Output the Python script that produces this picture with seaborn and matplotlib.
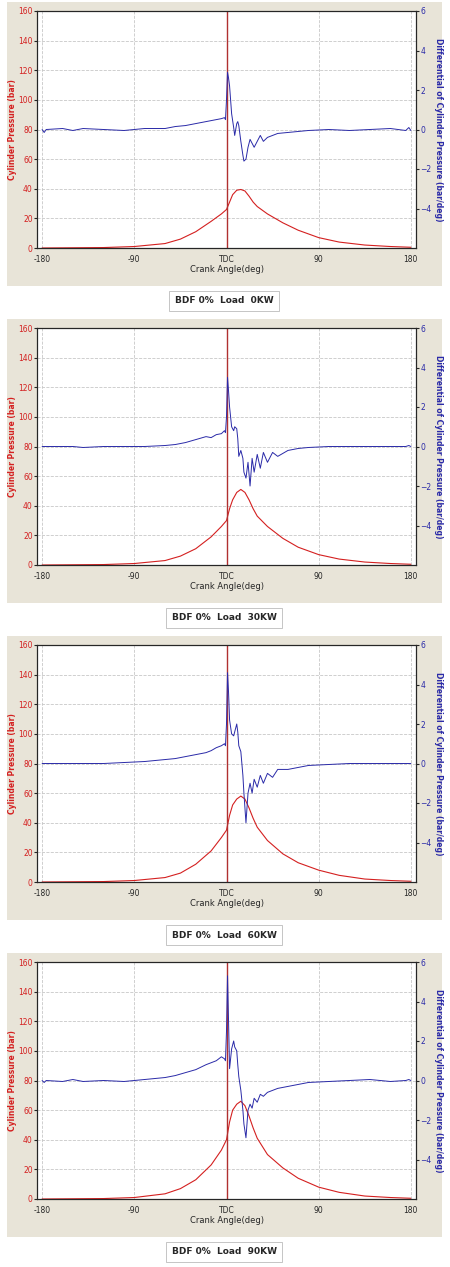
import matplotlib.pyplot as plt
import matplotlib.patches as patches
import numpy as np
import pandas as pd
import seaborn as sns

sns.set_style("white")
plt.rcParams['font.family'] = ['DejaVu Sans']

loads = ["0KW", "30KW", "60KW", "90KW"]

# cylinder pressure (bar) vs crank angle
p_ang = [-180, -120, -90, -60, -45, -30, -15, -5, 0, 3, 6, 10, 14, 18, 22, 26, 30, 40, 55, 70, 90, 110, 135, 160, 180]
p_0 = [0, 0.3, 1, 3, 6, 11, 18, 23, 26, 31, 36, 39, 39.5, 38.5, 35, 31, 28, 23, 17, 12, 7, 4, 2, 1, 0.5]
p_30 = [0, 0.3, 1, 3, 6, 11, 19, 26, 30, 38, 44, 49, 51, 49, 44, 38, 33, 26, 18, 12, 7, 4, 2, 1, 0.5]
p_60 = [0, 0.3, 1, 3, 6, 12, 21, 30, 35, 45, 52, 56, 58, 56, 50, 43, 37, 28, 19, 13, 8, 4.5, 2, 1, 0.5]
p_90 = [0, 0.3, 1, 3.5, 7, 13, 23, 33, 40, 52, 60, 64, 66, 63, 56, 48, 41, 30, 21, 14, 8, 4.5, 2, 1, 0.5]

# pressure differential (bar/deg) vs crank angle
d_ang = [-180, -178, -176, -160, -150, -140, -120, -100, -80, -60, -50, -40, -30, -20, -15, -10, -5, -2, -1, 0, 1, 2, 3, 5, 7, 8,
         10, 11, 12, 14, 16, 17, 19, 21, 23, 25, 27, 30, 33, 36, 40, 45, 50, 60, 70, 80, 100, 120, 140, 160, 175, 178, 180]
d_0 = [0, -0.15, 0, 0.05, -0.05, 0.05, 0, -0.05, 0.05, 0.05, 0.15, 0.2, 0.3, 0.4, 0.45, 0.5, 0.55, 0.6, 0.5, 1.5, 2.9, 2.6, 2.2, 0.8, 0.1, -0.3,
       0.3, 0.4, 0.2, -0.6, -1.3, -1.6, -1.5, -0.9, -0.5, -0.7, -0.9, -0.6, -0.3, -0.6, -0.4, -0.3, -0.2, -0.15, -0.1, -0.05, 0, -0.05, 0, 0.05, -0.05, 0.1, -0.05]
d_30 = [0, 0, 0, 0, 0, -0.05, 0, 0, 0, 0.05, 0.1, 0.2, 0.35, 0.5, 0.45, 0.6, 0.65, 0.8, 0.7, 1.5, 3.5, 2.8, 2.0, 1.0, 0.8, 1.0,
        0.9, 0.4, -0.5, -0.2, -0.6, -1.3, -1.6, -0.8, -2.0, -0.6, -1.3, -0.4, -1.1, -0.3, -0.8, -0.3, -0.5, -0.2, -0.1, -0.05, 0, 0, 0, 0, 0, 0.05, 0]
d_60 = [0, 0, 0, 0, 0, 0, 0, 0.05, 0.1, 0.2, 0.25, 0.35, 0.45, 0.55, 0.65, 0.8, 0.9, 1.0, 0.9, 2.0, 4.6, 3.6, 2.2, 1.5, 1.4, 1.6,
        2.0, 1.6, 0.9, 0.6, -0.6, -1.5, -3.0, -1.5, -1.0, -1.5, -0.8, -1.2, -0.6, -1.0, -0.5, -0.7, -0.3, -0.3, -0.2, -0.1, -0.05, 0, 0, 0, 0, 0, 0]
d_90 = [0, -0.1, 0, -0.05, 0.05, -0.05, 0, -0.05, 0.05, 0.15, 0.25, 0.4, 0.55, 0.8, 0.9, 1.0, 1.2, 1.1, 1.0, 2.5, 5.3, 3.0, 0.6, 1.6, 2.0, 1.7,
        1.5, 0.8, 0.2, -0.5, -1.5, -2.2, -2.9, -1.5, -1.2, -1.4, -0.9, -1.1, -0.7, -0.8, -0.6, -0.5, -0.4, -0.3, -0.2, -0.1, -0.05, 0, 0.05, -0.05, 0, 0.05, 0]

pressures = [p_0, p_30, p_60, p_90]
diffs = [d_0, d_30, d_60, d_90]

W, H = 450, 1267
fig = plt.figure(figsize=(W / 100, H / 100), dpi=100)
red = "#d42020"
blue = "#2a2aa8"

def frac(x, y, w, h):
    return [x / W, 1 - (y + h) / H, w / W, h / H]

for k in range(4):
    top = k * 317
    bg = fig.add_axes(frac(7, top + 2, 435, 284))
    bg.set_facecolor("#e8e4d8")
    bg.set_xticks([]); bg.set_yticks([])
    for s in bg.spines.values():
        s.set_visible(False)

    ax = fig.add_axes(frac(37, top + 11, 379, 237))
    df_p = pd.DataFrame({"angle": p_ang, "pressure": pressures[k]})
    df_d = pd.DataFrame({"angle": d_ang, "diff": diffs[k]})
    sns.lineplot(data=df_p, x="angle", y="pressure", ax=ax, color=red, lw=0.8)
    ax.set_xlim(-185, 185)
    ax.set_ylim(0, 160)
    ax.set_yticks(range(0, 161, 20))
    ax.set_xticks([-180, -90, 0, 90, 180])
    ax.set_xticklabels(["-180", "-90", "TDC", "90", "180"])
    ax.set_xticks(np.arange(-180, 181, 22.5), minor=True)
    ax.tick_params(axis="x", labelsize=5.5, length=3, pad=2)
    ax.tick_params(axis="x", which="minor", length=2)
    ax.tick_params(axis="y", labelsize=5.5, labelcolor=red, length=2, pad=1)
    ax.grid(True, ls="--", color="#c8c8c8", lw=0.6)
    ax.axvline(0, color="#b03030", lw=1)
    ax.set_xlabel("Crank Angle(deg)", fontsize=6, labelpad=1)
    ax.set_ylabel("Cylinder Pressure (bar)", fontsize=5.5, color=red, fontweight="bold", labelpad=1)
    for s in ax.spines.values():
        s.set_color("black")

    ax2 = ax.twinx()
    sns.lineplot(data=df_d, x="angle", y="diff", ax=ax2, color=blue, lw=0.7)
    ax2.set_ylim(-6, 6)
    ax2.set_yticks([-4, -2, 0, 2, 4, 6])
    ax2.tick_params(axis="y", labelsize=5.5, labelcolor=blue, length=2, pad=1)
    ax2.set_ylabel("Differential of Cylinder Pressure (bar/deg)", fontsize=5.5, color=blue,
                   fontweight="bold", rotation=270, labelpad=8)
    ax2.set_xlabel("")

    fig.text(224 / W, 1 - (top + 301) / H, "BDF 0%  Load  " + loads[k], ha="center", va="center",
             fontsize=6.5, fontweight="bold",
             bbox=dict(boxstyle="square,pad=0.6", fc="white", ec="#bbbbbb", lw=0.6))

fig.savefig("out.png", dpi=100)
